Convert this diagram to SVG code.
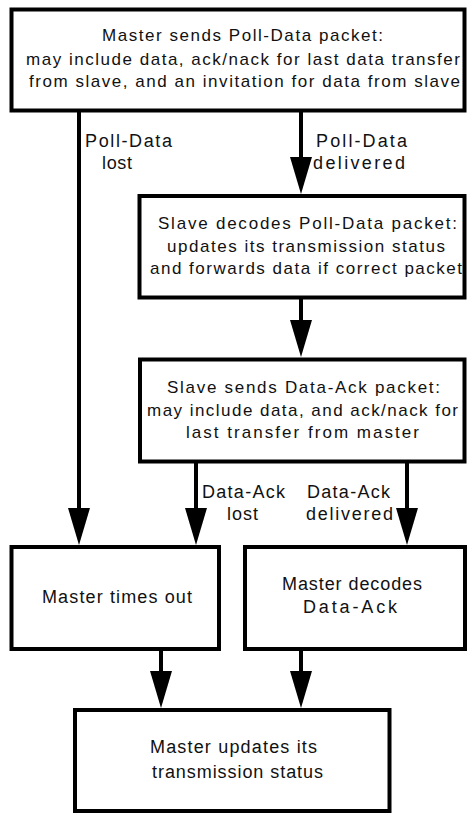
<svg xmlns="http://www.w3.org/2000/svg" width="467" height="813" viewBox="0 0 467 813">
  <style>
    .box { fill: #ffffff; stroke: #000000; stroke-width: 4; }
    .link { fill: none; stroke: #000000; stroke-width: 4; }
    .t { font-family: "Liberation Sans", Arial, Helvetica, sans-serif; fill: #111111; }
    .s { font-size: 17px; }
    .l { font-size: 18px; }
  </style>
  <defs>
    <marker id="head" markerUnits="userSpaceOnUse" markerWidth="37" markerHeight="22" refX="2" refY="11" orient="auto">
      <path d="M0,0 L37,11 L0,22 Z" fill="#000000"/>
    </marker>
  </defs>

  <rect width="467" height="813" fill="#ffffff"/>

  <!-- connectors -->
  <g id="connectors">
    <line class="link" x1="79" y1="112" x2="79" y2="510" marker-end="url(#head)"/>
    <line class="link" x1="301" y1="112" x2="301" y2="159" marker-end="url(#head)"/>
    <line class="link" x1="301" y1="299" x2="301" y2="322" marker-end="url(#head)"/>
    <line class="link" x1="196" y1="463" x2="196" y2="510" marker-end="url(#head)"/>
    <line class="link" x1="407" y1="463" x2="407" y2="510" marker-end="url(#head)"/>
    <line class="link" x1="161" y1="650" x2="161" y2="673" marker-end="url(#head)"/>
    <line class="link" x1="301" y1="650" x2="301" y2="673" marker-end="url(#head)"/>

    <text class="t l" x="85" y="147" textLength="87" lengthAdjust="spacing">Poll-Data</text>
    <text class="t l" x="102" y="169" textLength="30" lengthAdjust="spacing">lost</text>
    <text class="t l" x="316" y="147" textLength="91" lengthAdjust="spacing">Poll-Data</text>
    <text class="t l" x="313" y="169" textLength="92" lengthAdjust="spacing">delivered</text>
    <text class="t l" x="202" y="498" textLength="83" lengthAdjust="spacing">Data-Ack</text>
    <text class="t l" x="227" y="520" textLength="31" lengthAdjust="spacing">lost</text>
    <text class="t l" x="307" y="498" textLength="83" lengthAdjust="spacing">Data-Ack</text>
    <text class="t l" x="306" y="520" textLength="87" lengthAdjust="spacing">delivered</text>
  </g>

  <g id="master-sends">
    <rect class="box" x="11.5" y="9.5" width="453" height="101"/>
    <text class="t s" x="102" y="41" textLength="281" lengthAdjust="spacing">Master sends Poll-Data packet:</text>
    <text class="t s" x="26" y="65" textLength="434" lengthAdjust="spacing">may include data, ack/nack for last data transfer</text>
    <text class="t s" x="29" y="87" textLength="431" lengthAdjust="spacing">from slave, and an invitation for data from slave</text>
  </g>

  <g id="slave-decodes">
    <rect class="box" x="139.5" y="196" width="325" height="101.5"/>
    <text class="t s" x="158" y="229" textLength="299" lengthAdjust="spacing">Slave decodes Poll-Data packet:</text>
    <text class="t s" x="167" y="252" textLength="278" lengthAdjust="spacing">updates its transmission status</text>
    <text class="t s" x="150" y="274" textLength="312" lengthAdjust="spacing">and forwards data if correct packet</text>
  </g>

  <g id="slave-sends">
    <rect class="box" x="140" y="359.5" width="324.5" height="102"/>
    <text class="t s" x="167" y="393" textLength="273" lengthAdjust="spacing">Slave sends Data-Ack packet:</text>
    <text class="t s" x="147" y="416" textLength="311" lengthAdjust="spacing">may include data, and ack/nack for</text>
    <text class="t s" x="186" y="438" textLength="233" lengthAdjust="spacing">last transfer from master</text>
  </g>

  <g id="master-times-out">
    <rect class="box" x="11.5" y="547" width="207.5" height="102"/>
    <text class="t l" x="42" y="603" textLength="150" lengthAdjust="spacing">Master times out</text>
  </g>

  <g id="master-decodes">
    <rect class="box" x="245" y="547" width="220" height="102"/>
    <text class="t l" x="282" y="590" textLength="140" lengthAdjust="spacing">Master decodes</text>
    <text class="t l" x="303" y="613" textLength="94" lengthAdjust="spacing">Data-Ack</text>
  </g>

  <g id="master-updates">
    <rect class="box" x="75" y="710" width="314.5" height="101"/>
    <text class="t l" x="150" y="753" textLength="167" lengthAdjust="spacing">Master updates its</text>
    <text class="t l" x="152" y="778" textLength="171" lengthAdjust="spacing">transmission status</text>
  </g>
</svg>
